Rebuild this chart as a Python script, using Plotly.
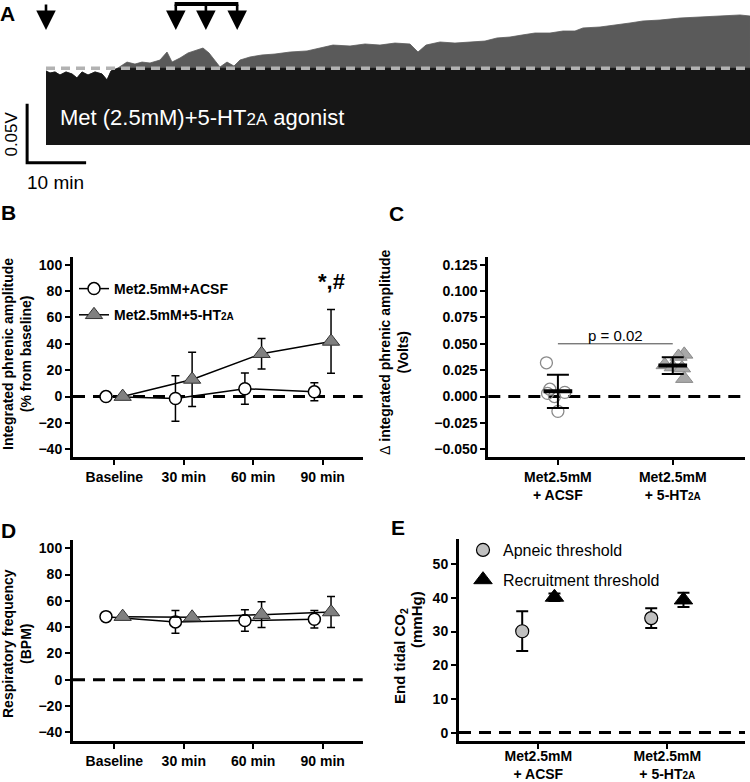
import plotly.graph_objects as go
import numpy as np

W, H = 750, 782
def px(x): return x / W
def py(y): return 1 - y / H

FONT = "Arial, Liberation Sans, Helvetica, sans-serif"

# ---------------- data ----------------
# Panel A: integrated phrenic trace envelope (min, V)
trace_t = [0, 0.68, 1.53, 2.37, 3.39, 4.41, 5.25, 6.10, 7.12, 8.31, 9.49, 10.34, 11.02, 12.20,
           13.73, 15.08, 16.27, 17.63, 19.32, 20.51, 21.36, 22.71, 24.07, 25.42, 26.61, 27.63,
           28.64, 29.49, 30.68, 31.86, 32.88, 34.58, 36.61, 38.81, 41.36, 44.24, 46.44, 48.64,
           51.53, 54.07, 56.61, 59.15, 61.69, 63.05, 64.41, 66.78, 69.32, 71.86, 74.41, 76.44,
           78.64, 80.68, 82.88, 85.42, 87.63, 89.66, 91.02, 93.90, 96.78, 98.98, 101.19, 104.07,
           107.46, 110.85, 114.24, 117.63, 119.32]
trace_amp = [0.0627, 0.0610, 0.0619, 0.0593, 0.0619, 0.0602, 0.0568, 0.0619, 0.0593, 0.0619,
             0.0602, 0.0551, 0.0627, 0.0653, 0.0703, 0.0686, 0.0703, 0.0695, 0.0720, 0.0788,
             0.0703, 0.0737, 0.0780, 0.0805, 0.0822, 0.0780, 0.0720, 0.0661, 0.0703, 0.0669,
             0.0720, 0.0746, 0.0763, 0.0771, 0.0788, 0.0797, 0.0822, 0.0847, 0.0839, 0.0856,
             0.0847, 0.0864, 0.0856, 0.0788, 0.0847, 0.0873, 0.0864, 0.0873, 0.0881, 0.0907,
             0.0915, 0.0932, 0.0949, 0.0949, 0.0966, 0.0966, 0.0992, 0.1000, 0.1017, 0.1034,
             0.1051, 0.1059, 0.1076, 0.1085, 0.1093, 0.1102, 0.1093]
baseline_amp = 0.065
injection_single = [0]
injection_group = [22.0, 27.1, 32.4]

# Panels B & D
timepoints = ["Baseline", "30 min", "60 min", "90 min"]
amp_acsf = [0, -1.5, 6.0, 3.6]
amp_acsf_err = [0, 17.2, 11.8, 6.8]
amp_ht = [0, 13.0, 32.5, 41.8]
amp_ht_err = [0, 20.6, 11.6, 24.1]

freq_acsf = [48, 44, 45, 46]
freq_acsf_err = [0, 8.7, 8.2, 6.7]
freq_ht = [48, 47.5, 49.5, 51.5]
freq_ht_err = [0, 0, 9.8, 11.8]

# Panel C
c_groups = ["Met2.5mM<br>+ ACSF", "Met2.5mM<br>+ 5-HT<span style='font-size:10px'>2A</span>"]
c_acsf_pts = [0.032, 0.007, 0.004, 0.003, 0.000, -0.014]
c_ht_pts = [0.040, 0.038, 0.030, 0.028, 0.027, 0.017]
c_mean = [0.0050, 0.0294]
c_sd = [0.0158, 0.0079]

# Panel E
e_groups = c_groups
apneic = [30.1, 34.0]
apneic_err = [5.9, 2.9]
recruit = [40.2, 39.4]
recruit_err = [1.1, 2.1]

# ---------------- figure ----------------
fig = go.Figure()
idx4 = np.arange(len(timepoints))
OFF = 0.12

# Panel A
amp = np.array(trace_amp)
fig.add_trace(go.Scatter(x=trace_t, y=amp, mode="lines", fill="tozeroy", fillcolor="#5a5a5a",
                         line=dict(color="#5a5a5a", width=0.8), xaxis="x5", yaxis="y5", showlegend=False))
fig.add_trace(go.Scatter(x=trace_t, y=np.minimum(amp, baseline_amp), mode="lines", fill="tozeroy",
                         fillcolor="#161616", line=dict(color="#161616", width=0.8),
                         xaxis="x5", yaxis="y5", showlegend=False))
fig.add_trace(go.Scatter(x=[trace_t[0], trace_t[-1]], y=[baseline_amp, baseline_amp], mode="lines",
                         line=dict(color="#b2b2b2", width=3.5, dash="9px,6px"),
                         xaxis="x5", yaxis="y5", showlegend=False))
# scale bar (10 min, 0.05 V)
fig.add_trace(go.Scatter(x=[-3.2, -3.2, 6.8], y=[0.035, -0.015, -0.015], mode="lines",
                         line=dict(color="black", width=3), xaxis="x5", yaxis="y5", showlegend=False))

# Panel B
fig.add_trace(go.Scatter(x=idx4 - OFF, y=amp_acsf, mode="lines+markers", name="Met2.5mM+ACSF",
                         line=dict(color="black", width=1.5),
                         marker=dict(symbol="circle", size=12, color="white", line=dict(color="black", width=1.5)),
                         error_y=dict(type="data", array=amp_acsf_err, color="black", thickness=1.5, width=4),
                         xaxis="x", yaxis="y", legend="legend", legendgroup="a"))
fig.add_trace(go.Scatter(x=idx4 + OFF, y=amp_ht, mode="lines+markers",
                         name="Met2.5mM+5-HT<span style='font-size:10px'>2A</span>",
                         line=dict(color="black", width=1.5),
                         marker=dict(symbol="triangle-up", size=15, color="#808080", line=dict(color="#333", width=1)),
                         error_y=dict(type="data", array=amp_ht_err, color="black", thickness=1.5, width=4),
                         xaxis="x", yaxis="y", legend="legend", legendgroup="b"))

# Panel D
fig.add_trace(go.Scatter(x=idx4 - OFF, y=freq_acsf, mode="lines+markers", showlegend=False,
                         line=dict(color="black", width=1.5),
                         marker=dict(symbol="circle", size=12, color="white", line=dict(color="black", width=1.5)),
                         error_y=dict(type="data", array=freq_acsf_err, color="black", thickness=1.5, width=4),
                         xaxis="x3", yaxis="y3"))
fig.add_trace(go.Scatter(x=idx4 + OFF, y=freq_ht, mode="lines+markers", showlegend=False,
                         line=dict(color="black", width=1.5),
                         marker=dict(symbol="triangle-up", size=15, color="#808080", line=dict(color="#333", width=1)),
                         error_y=dict(type="data", array=freq_ht_err, color="black", thickness=1.5, width=4),
                         xaxis="x3", yaxis="y3"))

# Panel C
jit_acsf = [-0.10, -0.07, 0.06, -0.09, -0.03, 0.0]
jit_ht = [0.10, 0.05, -0.07, 0.0, 0.08, 0.10]
fig.add_trace(go.Scatter(x=np.array(jit_acsf) + 0, y=c_acsf_pts, mode="markers", showlegend=False,
                         marker=dict(symbol="circle", size=12, color="rgba(255,255,255,0)",
                                     line=dict(color="#8a8a8a", width=1.3)),
                         xaxis="x2", yaxis="y2"))
fig.add_trace(go.Scatter(x=np.array(jit_ht) + 1, y=c_ht_pts, mode="markers", showlegend=False,
                         marker=dict(symbol="triangle-up", size=15, color="#a8a8a8",
                                     line=dict(color="#8a8a8a", width=1)),
                         xaxis="x2", yaxis="y2"))
for i in range(2):
    fig.add_trace(go.Scatter(x=[i - 0.125, i + 0.125], y=[c_mean[i], c_mean[i]], mode="lines",
                             line=dict(color="black", width=4), showlegend=False, xaxis="x2", yaxis="y2"))
fig.add_trace(go.Scatter(x=[0, 1], y=c_mean, mode="markers", showlegend=False,
                         marker=dict(size=1, color="rgba(0,0,0,0)"),
                         error_y=dict(type="data", array=c_sd, color="black", thickness=2, width=11),
                         xaxis="x2", yaxis="y2"))
fig.add_trace(go.Scatter(x=[0, 1], y=[0.05, 0.05], mode="lines", showlegend=False,
                         line=dict(color="#444", width=1), xaxis="x2", yaxis="y2"))

# Panel E
fig.add_trace(go.Scatter(x=np.arange(2) - 0.125, y=apneic, mode="markers", name="Apneic threshold",
                         marker=dict(symbol="circle", size=13, color="#c0c0c0", line=dict(color="black", width=1.2)),
                         error_y=dict(type="data", array=apneic_err, color="black", thickness=2, width=6),
                         xaxis="x4", yaxis="y4", legend="legend2", legendgroup="c"))
fig.add_trace(go.Scatter(x=np.arange(2) + 0.125, y=recruit, mode="markers", name="Recruitment threshold",
                         marker=dict(symbol="triangle-up", size=16, color="black", line=dict(color="black", width=1)),
                         error_y=dict(type="data", array=recruit_err, color="black", thickness=2, width=6),
                         xaxis="x4", yaxis="y4", legend="legend2", legendgroup="d"))

# ---------------- axes ----------------
base_ax = dict(showgrid=False, zeroline=False, showline=True, linewidth=3, linecolor="black",
               ticks="outside", ticklen=5, tickwidth=2, tickcolor="black", automargin=False,
               tickfont=dict(family=FONT, size=14, color="black", weight="bold"))

layout = dict(
    template="none",
    width=W, height=H, margin=dict(l=0, r=0, t=0, b=0, pad=0, autoexpand=False),
    paper_bgcolor="white", plot_bgcolor="rgba(0,0,0,0)",
    font=dict(family=FONT, color="black"),
    xaxis=dict(base_ax, domain=[px(73), px(362.7)], range=[-0.595, 3.576], tickvals=list(idx4),
               ticktext=timepoints, anchor="y"),
    yaxis=dict(base_ax, domain=[py(457.3), py(256.7)], range=[-46, 106], tickvals=list(range(-40, 101, 20)),
               anchor="x"),
    xaxis2=dict(base_ax, domain=[px(488.3), px(745)], range=[-0.606, 1.629], tickvals=[0, 1],
                ticktext=c_groups, anchor="y2"),
    yaxis2=dict(base_ax, domain=[py(457.3), py(256.7)], range=[-0.0575, 0.1325],
                tickvals=[-0.05, -0.025, 0, 0.025, 0.05, 0.075, 0.1, 0.125], tickformat=".3f", anchor="x2"),
    xaxis3=dict(base_ax, domain=[px(73), px(362.7)], range=[-0.595, 3.576], tickvals=list(idx4),
                ticktext=timepoints, anchor="y3"),
    yaxis3=dict(base_ax, domain=[py(740.7), py(540)], range=[-46.4, 106.3], tickvals=list(range(-40, 101, 20)),
                anchor="x3"),
    xaxis4=dict(base_ax, domain=[px(459), px(745)], range=[-0.615, 1.602], tickvals=[0, 1],
                ticktext=e_groups, anchor="y4", ticklabelstandoff=-5),
    yaxis4=dict(base_ax, domain=[py(740.7), py(539.3)], range=[-2.4, 57.4], tickvals=[0, 10, 20, 30, 40, 50],
                anchor="x4"),
    xaxis5=dict(domain=[0, 1], range=[-46 / 5.9, 704 / 5.9], visible=False, anchor="y5"),
    yaxis5=dict(domain=[py(200), 1], range=[-55 / 1180, 145 / 1180], visible=False, anchor="x5"),
    legend=dict(x=px(74), y=py(273), xanchor="left", yanchor="top", bgcolor="rgba(0,0,0,0)",
                font=dict(family=FONT, size=14, weight="bold", color="black"), tracegroupgap=5,
                traceorder="grouped"),
    legend2=dict(x=px(463), y=py(533), xanchor="left", yanchor="top", bgcolor="rgba(0,0,0,0)",
                 font=dict(family=FONT, size=16, color="black"), tracegroupgap=6, traceorder="grouped"),
)
fig.update_layout(**layout)

# zero dashed lines
for xa, ya in [("x", "y"), ("x2", "y2"), ("x3", "y3"), ("x4", "y4")]:
    fig.add_shape(type="line", xref=f"{xa} domain", yref=ya, x0=0, x1=1, y0=0, y1=0,
                  line=dict(color="black", width=3, dash="12px,8px"), layer="below")

ann = []
# panel A arrows
for t in injection_single + injection_group:
    ann.append(dict(x=t, y=0.0975, xref="x5", yref="y5", ax=0, ay=-27, text="", showarrow=True,
                    arrowhead=2, arrowsize=1.5, arrowwidth=2.6, arrowcolor="black"))
fig.add_shape(type="line", xref="x5", yref="y5", x0=injection_group[0] - 0.2, x1=injection_group[-1] + 0.2,
              y0=0.1195, y1=0.1195, line=dict(color="black", width=4))
ann.append(dict(x=2.0, y=0.0229, xref="x5", yref="y5", xanchor="left", yanchor="middle", showarrow=False,
                text="Met (2.5mM)+5-HT<span style='font-size:17px'>2A</span> agonist",
                font=dict(family=FONT, size=22, color="white")))
ann.append(dict(x=-5.8, y=0.0095, xref="x5", yref="y5", textangle=-90, showarrow=False, text="0.05V",
                font=dict(family=FONT, size=17, color="black")))
ann.append(dict(x=1.6, y=-0.032, xref="x5", yref="y5", showarrow=False, text="10 min",
                font=dict(family=FONT, size=19, color="black")))

# panel letters
for lab, x, y in [("A", 7, 13), ("B", 8, 213), ("C", 396, 214), ("D", 8, 530), ("E", 398, 527)]:
    ann.append(dict(x=px(x), y=py(y), xref="paper", yref="paper", text=lab, showarrow=False,
                    xanchor="center", yanchor="middle",
                    font=dict(family=FONT, size=21, weight="bold", color="black")))

# axis titles
def ytitle(text, x, y, bold=True, size=14):
    ann.append(dict(x=px(x), y=py(y), xref="paper", yref="paper", text=text, textangle=-90, showarrow=False,
                    xanchor="center", yanchor="middle",
                    font=dict(family=FONT, size=size, color="black", weight="bold" if bold else "normal")))

ytitle("Integrated phrenic amplitude<br>(% from baseline)", 17, 354)
ytitle("<span style='font-weight:normal'>Δ</span> integrated phrenic amplitude<br>(Volts)", 394, 352)
ytitle("Respiratory frequency<br>(BPM)", 17, 644)
ytitle("End tidal CO<sub>2</sub>", 400, 656, size=15)
ytitle("(mmHg)", 416, 620, size=15)

# B significance
ann.append(dict(x=3 + OFF, y=87, xref="x", yref="y", text="*,#", showarrow=False,
                font=dict(family=FONT, size=22, weight="bold", color="black")))
# C p-value
ann.append(dict(x=0.5, y=0.05, xref="x2", yref="y2", text="p = 0.02", showarrow=False, yanchor="bottom",
                yshift=-2, font=dict(family=FONT, size=15, color="black")))

fig.update_layout(annotations=ann)
fig.write_html("out.html", config={"displayModeBar": False},
               post_script="document.body.style.margin='0';document.body.style.overflow='hidden';")
